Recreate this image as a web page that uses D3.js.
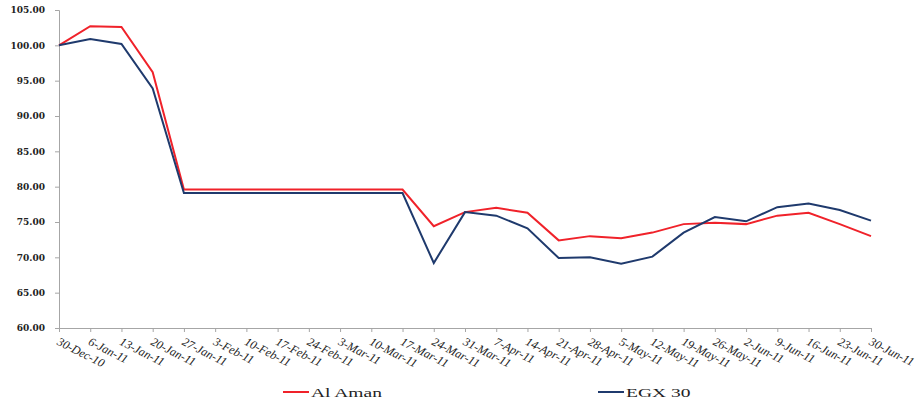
<!DOCTYPE html>
<html>
<head>
<meta charset="utf-8">
<script src="https://cdn.jsdelivr.net/npm/d3@7"></script>
<style>
  body { margin: 0; background: #fff; }
  .axis path, .axis line { stroke: #a6a6a6; }
  .ytick text { font-family: "DejaVu Serif", serif; font-weight: bold; font-size: 9px; fill: #222; }
  .xtick text { font-family: "Liberation Serif", "Times New Roman", serif; font-style: italic; font-size: 12px; fill: #222; }
  .legend text { font-family: "Liberation Serif", "Times New Roman", serif; font-size: 13px; fill: #222; }
</style>
</head>
<body>
<div id="chart"></div>
<script>
var svgWidth = 917;
var svgHeight = 403;

var margin = { top: 10, right: 46, bottom: 75, left: 59 };
var width = svgWidth - margin.left - margin.right;
var height = svgHeight - margin.top - margin.bottom;

// data
var dates = ["30-Dec-10", "6-Jan-11", "13-Jan-11", "20-Jan-11", "27-Jan-11", "3-Feb-11", "10-Feb-11",
  "17-Feb-11", "24-Feb-11", "3-Mar-11", "10-Mar-11", "17-Mar-11", "24-Mar-11", "31-Mar-11", "7-Apr-11",
  "14-Apr-11", "21-Apr-11", "28-Apr-11", "5-May-11", "12-May-11", "19-May-11", "26-May-11", "2-Jun-11",
  "9-Jun-11", "16-Jun-11", "23-Jun-11", "30-Jun-11"];

var alAman = [100, 102.7, 102.6, 96.2, 79.6, 79.6, 79.6, 79.6, 79.6, 79.6, 79.6, 79.6, 74.4, 76.4, 77.0,
  76.3, 72.4, 73.0, 72.7, 73.5, 74.7, 74.9, 74.7, 75.9, 76.3, 74.7, 73.0];

var egx30 = [100, 100.9, 100.2, 93.9, 79.1, 79.1, 79.1, 79.1, 79.1, 79.1, 79.1, 79.1, 69.2, 76.4, 75.9,
  74.1, 69.9, 70.0, 69.1, 70.1, 73.5, 75.7, 75.1, 77.1, 77.6, 76.7, 75.2];

var yTicks = [60, 65, 70, 75, 80, 85, 90, 95, 100, 105];

var series = [
  { name: "Al Aman", values: alAman, color: "#f0222a" },
  { name: "EGX 30", values: egx30, color: "#1f3a6d" }
];

var svg = d3.select("#chart")
  .append("svg")
  .attr("width", svgWidth)
  .attr("height", svgHeight);

var chartGroup = svg.append("g")
  .attr("transform", `translate(${margin.left}, ${margin.top})`);

var xScale = d3.scalePoint()
  .domain(dates)
  .range([0, width]);

var yScale = d3.scaleLinear()
  .domain([60, 105])
  .range([height, 0]);

// y axis
chartGroup.append("g")
  .attr("class", "axis ytick")
  .call(d3.axisLeft(yScale).tickValues(yTicks).tickFormat(d3.format(".2f")).tickSize(4).tickPadding(10));

// x axis
var xAxis = chartGroup.append("g")
  .attr("class", "axis xtick")
  .attr("transform", `translate(0,${height})`)
  .call(d3.axisBottom(xScale).tickSize(4).tickSizeOuter(0));

xAxis.selectAll("text")
  .attr("text-anchor", "start")
  .attr("dy", "0")
  .attr("transform", "translate(0,10) rotate(27)");

// lines
var line = d3.line()
  .x((d, i) => xScale(dates[i]))
  .y(d => yScale(d));

chartGroup.selectAll(".series")
  .data(series)
  .enter()
  .append("path")
  .attr("class", "series")
  .attr("d", d => line(d.values))
  .attr("fill", "none")
  .attr("stroke", d => d.color)
  .attr("stroke-width", 2);

// legend (the source picture is stretched sideways, so the text is too)
var legendX = [283, 598];
var legend = svg.selectAll(".legend")
  .data(series)
  .enter()
  .append("g")
  .attr("class", "legend")
  .attr("transform", (d, i) => `translate(${legendX[i]}, 392)`);

legend.append("line")
  .attr("x1", 0)
  .attr("x2", 26)
  .attr("stroke", d => d.color)
  .attr("stroke-width", 2);

legend.append("text")
  .attr("transform", "translate(28,0) scale(1.5,1)")
  .attr("dy", "0.35em")
  .text(d => d.name);
</script>
</body>
</html>
